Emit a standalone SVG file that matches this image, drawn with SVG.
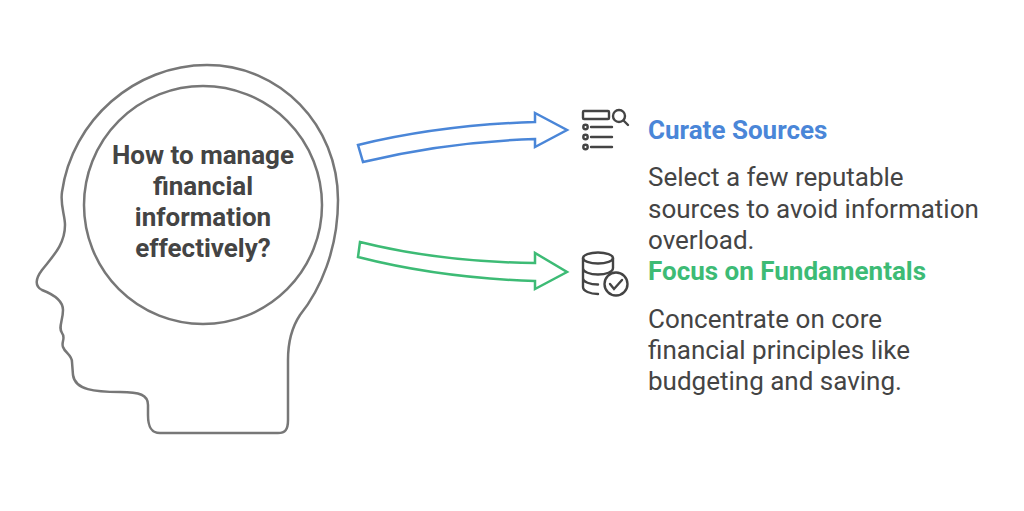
<svg xmlns="http://www.w3.org/2000/svg" width="1024" height="511" viewBox="0 0 1024 511">
<style>
.o{fill:none;stroke:#777;stroke-width:2.5}
.q{font-family:Roboto,"Liberation Sans",sans-serif;font-weight:bold;font-size:26px;fill:#444;text-anchor:middle}
.h{font-family:Roboto,"Liberation Sans",sans-serif;font-weight:bold;font-size:26px}
.b{font-family:Roboto,"Liberation Sans",sans-serif;font-size:26px;fill:#444}
.ic{fill:none;stroke:#444;stroke-width:2.4;stroke-linecap:round}
</style>
<rect width="1024" height="511" fill="#fff"/>
<g id="head">
<path class="o" d="M207,65 C280,65 338,125 338,200 C338,250 320,290 300,315 C290,330 288,345 288,360 L288,420 C288,430 285,433 278,433 L160,433 C150,433 148,425 148,415 L148,405 C148,395 140,392 120,392 C95,392 75,390 73,375 L72,362 C72,355 65,353 63,347 C61,342 66,338 62,333 C58,328 63,320 63,310 C63,302 55,295 42,290 C34,286 36,278 42,270 C52,257 65,245 65,225 C65,215 60,205 62,192 C72,120 135,65 207,65 Z"/>
<circle class="o" cx="203" cy="205" r="119"/>
<text class="q" x="203" y="164">How to manage</text>
<text class="q" x="203" y="195">financial</text>
<text class="q" x="203" y="226">information</text>
<text class="q" x="203" y="257">effectively?</text>
</g>
<g id="connectors">
<path d="M358,145 Q440,125 535,122 L535,113 L567,130 L535,147 L535,139 Q445,142 363,162 Z" fill="none" stroke="#4a86d8" stroke-width="2.5"/>
<path d="M360,242 Q440,262 535,263 L535,253 L567,272 L535,289 L535,281 Q440,278 358,257 Z" fill="none" stroke="#3dbb75" stroke-width="2.5"/>
</g>
<g id="curate">
<g class="ic">
<rect x="583" y="111" width="26" height="8" rx="1"/>
<circle cx="585.5" cy="127" r="2.2"/><line x1="591" y1="127" x2="612" y2="127"/>
<circle cx="585.5" cy="137" r="2.2"/><line x1="591" y1="137" x2="612" y2="137"/>
<circle cx="585.5" cy="147" r="2.2"/><line x1="591" y1="147" x2="612" y2="147"/>
<circle cx="619" cy="116" r="6"/><line x1="623.5" y1="120.5" x2="628" y2="125"/>
</g>
<text class="h" x="648" y="139" fill="#4a86d8">Curate Sources</text>
<text class="b" x="648" y="186">Select a few reputable</text>
<text class="b" x="648" y="218">sources to avoid information</text>
<text class="b" x="648" y="249">overload.</text>
</g>
<g id="focus">
<g class="ic">
<ellipse cx="598" cy="258" rx="15" ry="5.5"/>
<path d="M583,258 V287 C583,291 590,294 598,294 M583,268 C583,272 590,274.5 598,274.5 C606,274.5 613,272 613,268 V258 M583,278 C583,282 590,284.5 598,284.5"/>
<circle cx="616" cy="284" r="11.5"/>
<path d="M610,284 L614,289 L622,280"/>
</g>
<text class="h" x="648" y="280" fill="#3dbb75">Focus on Fundamentals</text>
<text class="b" x="648" y="328">Concentrate on core</text>
<text class="b" x="648" y="359">financial principles like</text>
<text class="b" x="648" y="390">budgeting and saving.</text>
</g>
</svg>
